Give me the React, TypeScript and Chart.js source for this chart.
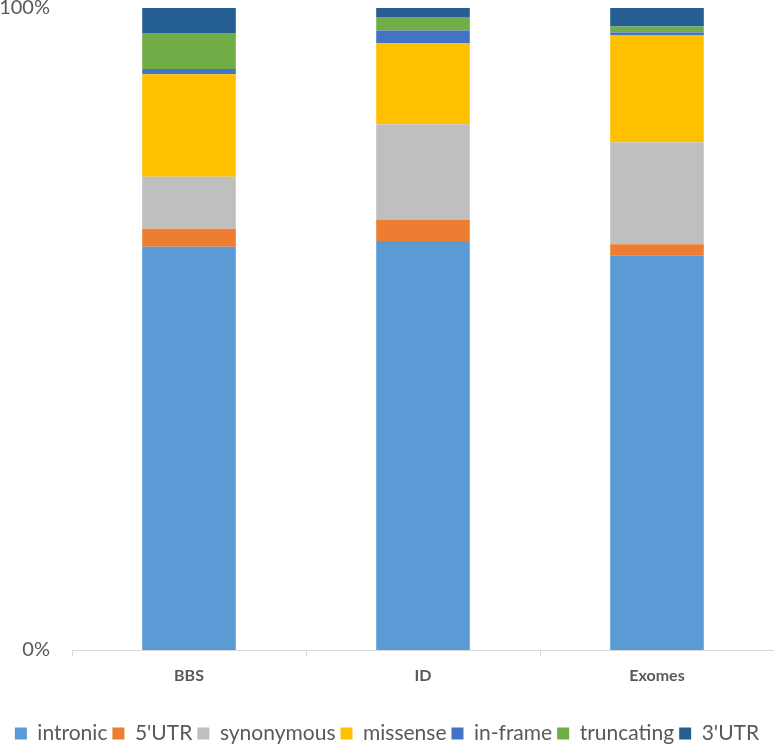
import { useEffect, useRef } from "react";
import { Chart, registerables } from "chart.js";

Chart.register(...registerables);

const categories = ["BBS", "ID", "Exomes"];
const seriesNames = ["intronic", "5'UTR", "synonymous", "missense", "in-frame", "truncating", "3'UTR"];
const seriesColors = ["#5B9BD5", "#ED7D31", "#BFBFBF", "#FFC000", "#4472C4", "#70AD47", "#255E91"];

// percent of variants per class, one array per class (BBS, ID, Exomes)
const intronic = [62.8, 63.7, 61.4];
const utr5 = [2.8, 3.3, 1.8];
const synonymous = [8.1, 14.9, 15.9];
const missense = [16.0, 12.6, 16.6];
const inFrame = [0.8, 2.0, 0.5];
const truncating = [5.6, 2.1, 0.9];
const utr3 = [3.9, 1.4, 2.9];

const yTicks = [0, 100];

const seriesValues = [intronic, utr5, synonymous, missense, inFrame, truncating, utr3];

export default function App() {
  const chartRef = useRef<HTMLCanvasElement>(null);
  const chartInstance = useRef<Chart | null>(null);

  useEffect(() => {
    if (!chartRef.current) return;

    if (chartInstance.current) {
      chartInstance.current.destroy();
    }

    const ctx = chartRef.current.getContext("2d");
    if (!ctx) return;

    chartInstance.current = new Chart(ctx, {
      type: "bar",
      data: {
        labels: categories,
        datasets: seriesNames.map((name, i) => ({
          label: name,
          data: seriesValues[i],
          backgroundColor: seriesColors[i],
          borderWidth: 0,
          barPercentage: 0.4,
          categoryPercentage: 1,
        })),
      },
      options: {
        responsive: true,
        maintainAspectRatio: false,
        animation: false,
        layout: { padding: 0 },
        plugins: {
          tooltip: { enabled: false },
          legend: {
            position: "bottom",
            labels: {
              boxWidth: 12,
              boxHeight: 12,
              padding: 5,
              color: "#595959",
              font: { family: "Lato", size: 21, lineHeight: 1 },
            },
          },
        },
        scales: {
          x: {
            stacked: true,
            grid: {
              display: true,
              drawOnChartArea: false,
              drawTicks: true,
              tickLength: 6,
              color: "#D9D9D9",
            },
            border: { display: true, color: "#D9D9D9", width: 1 },
            ticks: {
              padding: 10,
              color: "#595959",
              font: { family: "Lato", size: 16, weight: "bold" },
            },
            afterFit: (scale) => {
              scale.height = 68;
            },
          },
          y: {
            stacked: true,
            min: 0,
            max: 100,
            // tick marks are hidden, their length only spaces the labels
            grid: { display: false, drawTicks: true, tickLength: 22 },
            border: { display: false },
            afterBuildTicks: (scale) => {
              scale.ticks = yTicks.map((v) => ({ value: v }));
            },
            ticks: {
              padding: 0,
              color: "#595959",
              font: { family: "Lato", size: 20, lineHeight: 0.8 },
              callback: (v) => v + "%",
            },
            afterFit: (scale) => {
              scale.width = 72;
            },
          },
        },
      },
    });

    return () => {
      if (chartInstance.current) {
        chartInstance.current.destroy();
      }
    };
  }, []);

  return (
    <div style={{ position: "absolute", left: 0, top: 0, width: 774, height: 746, overflow: "hidden" }}>
      <div style={{ position: "relative", width: 774, height: 754 }}>
        <canvas ref={chartRef} />
      </div>
    </div>
  );
}
